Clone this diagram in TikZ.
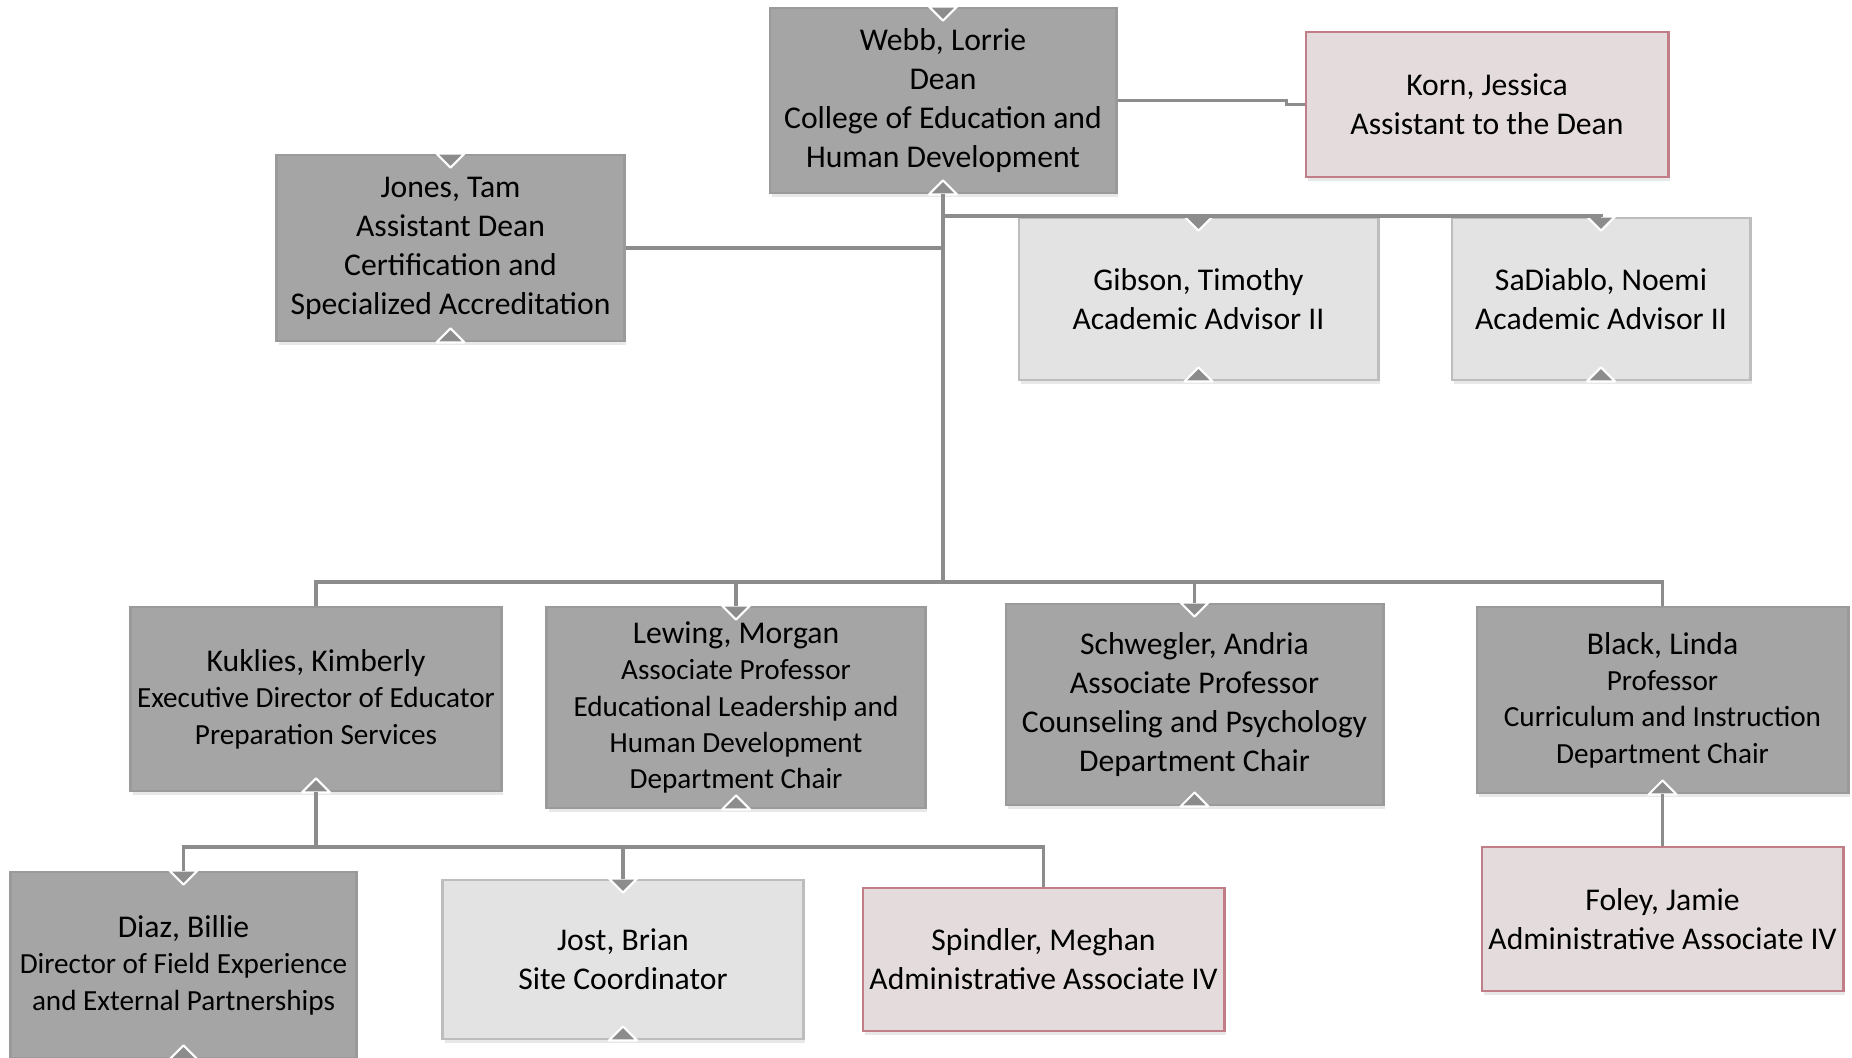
\documentclass[tikz,border=0pt]{standalone}
\usepackage{fontspec}
\setmainfont{Carlito}
\usepackage{tikz}
\usetikzlibrary{shadows}
\definecolor{boxdark}{HTML}{A5A5A5}
\definecolor{edgedark}{HTML}{9A9A9A}
\definecolor{boxlight}{HTML}{E3E3E3}
\definecolor{edgelight}{HTML}{BDBDBD}
\definecolor{boxpink}{HTML}{E4DCDC}
\definecolor{edgepink}{HTML}{C17E89}
\definecolor{wire}{HTML}{8C8C8C}
\newcommand{\FullSize}{\fontsize{9}{11.1}\selectfont}
\newcommand{\SmallSize}{\fontsize{8.3}{10.35}\selectfont}
\newcommand{\NotchTop}[1]{\draw[notch] (#1.north) ++(-14,0) -- ++(28,0) -- ++(-14,14) -- cycle;}
\newcommand{\NotchBottom}[1]{\draw[notch] (#1.south) ++(-14,0) -- ++(28,0) -- ++(-14,-14) -- cycle;}

\begin{document}
\begin{tikzpicture}[x=0.01cm, y=-0.01cm,
    person/.style={rectangle, align=center, inner sep=1pt, font=\FullSize, line width=0.8pt,
                   drop shadow={opacity=0.18, shadow xshift=0.6pt, shadow yshift=-1.2pt}},
    dark/.style={person, draw=edgedark, fill=boxdark},
    light/.style={person, draw=edgelight, fill=boxlight},
    pink/.style={person, draw=edgepink, fill=boxpink},
    conn/.style={draw=wire, line width=0.9pt},
    notch/.style={fill=wire, draw=white, line width=0.6pt, line join=round}]
    \useasboundingbox (0,0) rectangle (1852,1057);
    % dean and direct reports
    \node[dark, minimum width=3.46cm, minimum height=1.85cm] (Webb) at (943,100.5)
        {Webb, Lorrie\\Dean\\College of Education and\\Human Development};
    \node[pink, minimum width=3.62cm, minimum height=1.45cm] (Korn) at (1487,104.5)
        {Korn, Jessica\\Assistant to the Dean};
    \node[dark, minimum width=3.47cm, minimum height=1.86cm] (Jones) at (450.5,248)
        {Jones, Tam\\Assistant Dean\\Certification and\\Specialized Accreditation};
    \node[light, minimum width=3.59cm, minimum height=1.62cm] (Gibson) at (1198.5,299)
        {Gibson, Timothy\\Academic Advisor II};
    \node[light, minimum width=2.98cm, minimum height=1.62cm] (SaDiablo) at (1601,299)
        {SaDiablo, Noemi\\Academic Advisor II};
    % department level
    \node[dark, font=\SmallSize, minimum width=3.70cm, minimum height=1.84cm] (Kuklies) at (316,699)
        {{\FullSize Kuklies, Kimberly}\\Executive Director of Educator\\Preparation Services};
    \node[dark, font=\SmallSize, minimum width=3.78cm, minimum height=2.01cm] (Lewing) at (736,707.5)
        {{\FullSize Lewing, Morgan}\\Associate Professor\\Educational Leadership and\\Human Development\\Department Chair};
    \node[dark, minimum width=3.77cm, minimum height=2.01cm] (Schwegler) at (1194.5,704.5)
        {Schwegler, Andria\\Associate Professor\\Counseling and Psychology\\Department Chair};
    \node[dark, font=\SmallSize, minimum width=3.71cm, minimum height=1.86cm] (Black) at (1662.5,700)
        {{\FullSize Black, Linda}\\Professor\\Curriculum and Instruction\\Department Chair};
    \node[pink, minimum width=3.61cm, minimum height=1.44cm] (Foley) at (1662.5,919)
        {Foley, Jamie\\Administrative Associate IV};
    % field experience
    \node[dark, font=\SmallSize, minimum width=3.45cm, minimum height=1.86cm] (Diaz) at (183.5,965)
        {{\FullSize Diaz, Billie}\\Director of Field Experience\\and External Partnerships};
    \node[light, minimum width=3.60cm, minimum height=1.59cm] (Jost) at (623,959.5)
        {Jost, Brian\\Site Coordinator};
    \node[pink, minimum width=3.61cm, minimum height=1.43cm] (Spindler) at (1043.5,959.5)
        {Spindler, Meghan\\Administrative Associate IV};
    % small notches
    \foreach \n in {Webb,Jones,Gibson,SaDiablo,Lewing,Schwegler,Diaz,Jost} {\NotchTop{\n}}
    \foreach \n in {Webb,Jones,Gibson,SaDiablo,Kuklies,Lewing,Schwegler,Black,Diaz,Jost} {\NotchBottom{\n}}
    % connectors
    \coordinate (hub) at (943,582);
    \coordinate (abus) at (943,216);
    \coordinate (kbus) at (316,847);
    \draw[conn] (Webb.east) -- +(169,0) |- (Korn.west);
    \draw[conn] (Webb.south) -- (hub);
    \draw[conn] (Jones.east) -- (Jones.east -| hub);
    \draw[conn] (abus) -| (SaDiablo.north);
    \draw[conn] (abus -| Gibson.north) -- (Gibson.north);
    \draw[conn] (Kuklies.north) |- (hub) -| (Black.north);
    \draw[conn] (hub -| Lewing.north) -- (Lewing.north);
    \draw[conn] (hub -| Schwegler.north) -- (Schwegler.north);
    \draw[conn] (Black.south) -- (Foley.north);
    \draw[conn] (Kuklies.south) -- (kbus);
    \draw[conn] (Diaz.north) |- (kbus) -| (Spindler.north);
    \draw[conn] (kbus -| Jost.north) -- (Jost.north);
\end{tikzpicture}
\end{document}
